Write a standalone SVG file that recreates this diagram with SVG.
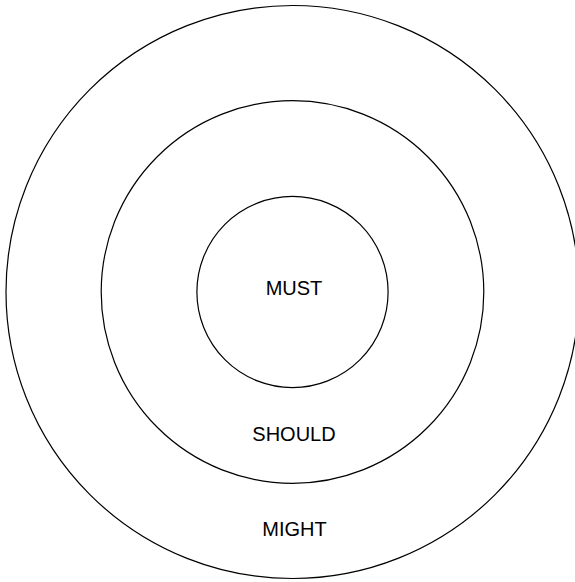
<svg xmlns="http://www.w3.org/2000/svg" width="575" height="582" viewBox="0 0 575 582">
<style>
.ring{fill:none;stroke:#000;stroke-width:1.2}
.lbl{font-family:"Liberation Sans",Arial,sans-serif;font-size:20px;fill:#000;text-anchor:middle}
</style>
<rect width="575" height="582" fill="#fff"/>
<g id="might">
<circle class="ring" cx="292.5" cy="292" r="286.5"/>
<text class="lbl" x="294.5" y="536">MIGHT</text>
</g>
<g id="should">
<circle class="ring" cx="292.5" cy="292" r="191.3"/>
<text class="lbl" x="294" y="441">SHOULD</text>
</g>
<g id="must">
<circle class="ring" cx="292.5" cy="292" r="95.6"/>
<text class="lbl" x="294" y="295">MUST</text>
</g>
<g id="connectors"></g>
</svg>
